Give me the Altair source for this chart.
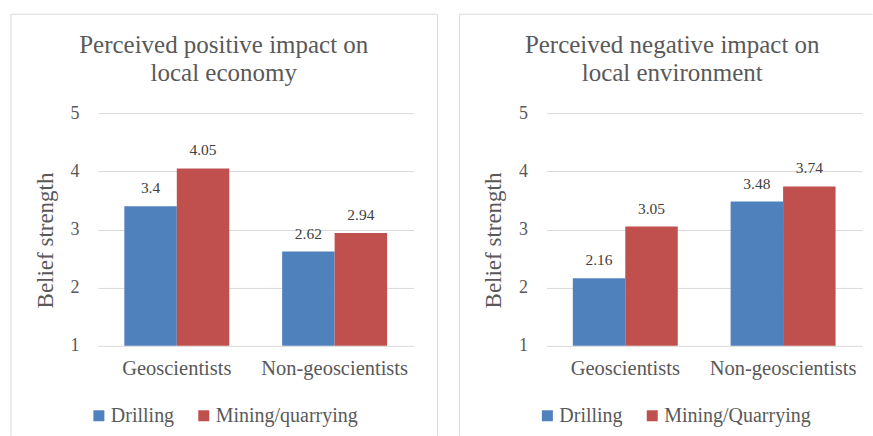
import altair as alt
import pandas as pd

categories = ["Geoscientists", "Non-geoscientists"]
series_left = ["Drilling", "Mining/quarrying"]
series_right = ["Drilling", "Mining/Quarrying"]
econ_drilling = [3.4, 2.62]
econ_mining = [4.05, 2.94]
env_drilling = [2.16, 3.48]
env_mining = [3.05, 3.74]
y_ticks = [1, 2, 3, 4, 5]
title_left = ["Perceived positive impact on", "local economy"]
title_right = ["Perceived negative impact on", "local environment"]
colors = ["#4F81BD", "#C0504D"]

FONT = "Liberation Serif"
TEXT = "#595959"
GRID = "#D9D9D9"
W, H = 316, 233


def frame_rule(x, x2, y, y2):
    return alt.Chart(pd.DataFrame({"f": [0]})).mark_rule(
        color=GRID, strokeWidth=1
    ).encode(x=alt.value(x), x2=alt.value(x2), y=alt.value(y), y2=alt.value(y2))


def panel(drill, mine, series, title, right_edge, draw_right):
    df = pd.DataFrame({
        "Group": categories * 2,
        "Series": [series[0]] * 2 + [series[1]] * 2,
        "Value": drill + mine,
    })
    base = alt.Chart(df).encode(
        x=alt.X("Group:N", sort=categories,
                scale=alt.Scale(domain=categories, paddingInner=0.335, paddingOuter=0.1675),
                axis=alt.Axis(title=None, labelAngle=0, labelFont=FONT, labelFontSize=20.5,
                              labelColor=TEXT, labelPadding=13, domain=False, ticks=False,
                              tickSize=0, grid=False)),
        xOffset=alt.XOffset("Series:N", sort=series,
                            scale=alt.Scale(domain=series, paddingInner=0, paddingOuter=0)),
    )
    bars = base.mark_bar().encode(
        y=alt.Y("Value:Q", scale=alt.Scale(domain=[1, 5], nice=False, zero=False),
                axis=alt.Axis(values=y_ticks, format="d", title="Belief strength", grid=True,
                              gridColor=GRID, gridWidth=1, domain=False, ticks=False,
                              tickSize=0, labelPadding=19, labelFont=FONT, labelFontSize=18,
                              labelColor=TEXT, titleFont=FONT, titleFontSize=23,
                              titleColor=TEXT, titleFontWeight="normal", titleAngle=270,
                              titleX=-52.5, titleY=127, titleAlign="center",
                              titleBaseline="middle")),
        y2=alt.datum(1),
        color=alt.Color("Series:N", sort=series,
                        scale=alt.Scale(domain=series, range=colors),
                        legend=alt.Legend(orient="none", legendX=-9, legendY=293,
                                          direction="horizontal", title=None,
                                          symbolType="square", symbolSize=121,
                                          symbolStrokeWidth=0, labelFont=FONT,
                                          labelFontSize=20, labelColor=TEXT,
                                          columnPadding=19, labelOffset=2)),
    )
    labels = base.mark_text(font=FONT, fontSize=15.5, color="#404040", dy=-13,
                            baseline="alphabetic").encode(
        y=alt.Y("Value:Q"),
        text=alt.Text("Value:Q", format=".3~g"),
    )
    layers = [
        frame_rule(-87, right_edge, -99, -99),
        frame_rule(-87, -87, -99, 323),
    ]
    if draw_right:
        layers.append(frame_rule(right_edge, right_edge, -99, 323))
    ttl = alt.Chart(pd.DataFrame({"t": [0]})).mark_text(
        text=title, font=FONT, fontSize=25, color=TEXT, lineHeight=28,
        baseline="alphabetic", align="center"
    ).encode(x=alt.value(126), y=alt.value(-60))
    layers += [bars, labels, ttl]
    return alt.layer(*layers).properties(width=W, height=H)


left = panel(econ_drilling, econ_mining, series_left, title_left, 340, True)
right = panel(env_drilling, env_mining, series_right, title_right, 326.5, False)

chart = alt.hconcat(left, right, spacing=133, bounds="flush").resolve_scale(
    color="independent", x="independent", y="independent", xOffset="independent"
).properties(
    padding={"left": 10, "top": 13, "right": 0, "bottom": 0}, background="white"
).configure_view(strokeWidth=0)

chart.save("out.html", embed_options={"renderer": "svg", "actions": False})
